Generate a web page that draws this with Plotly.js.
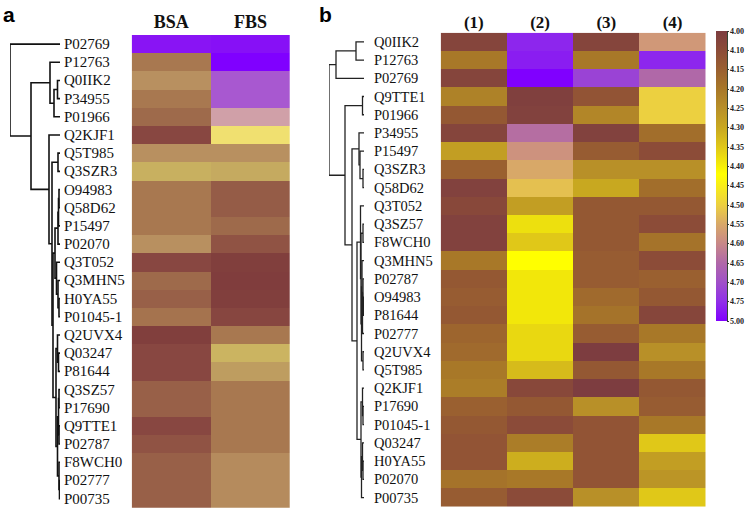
<!DOCTYPE html>
<html>
<head>
<meta charset="utf-8">
<script src="https://cdn.plot.ly/plotly-3.0.1.min.js"></script>
<style>html,body{margin:0;padding:0;background:#fff;}#chart{width:750px;height:509px;}</style>
</head>
<body>
<div id="chart"></div>
<script>
// ---------- DATA ----------
// Panel a
var rowsA = ['P02769','P12763','Q0IIK2','P34955','P01966','Q2KJF1','Q5T985','Q3SZR3','O94983','Q58D62',
  'P15497','P02070','Q3T052','Q3MHN5','H0YA55','P01045-1','Q2UVX4','Q03247','P81644','Q3SZ57',
  'P17690','Q9TTE1','P02787','F8WCH0','P02777','P00735'];
var colsA = ['BSA','FBS'];
var bsaA = [4.85,4.20,4.25,4.20,4.17,4.08,4.25,4.30,4.20,4.20,4.20,4.25,4.08,4.17,4.15,4.19,4.02,4.08,4.08,4.15,4.15,4.08,4.12,4.15,4.15,4.15];
var fbsA = [4.88,5.00,4.67,4.67,4.55,4.42,4.25,4.29,4.14,4.14,4.17,4.12,4.02,4.01,4.02,4.07,4.20,4.31,4.27,4.20,4.20,4.20,4.20,4.24,4.24,4.24];

// Panel b
var rowsB = ['Q0IIK2','P12763','P02769','Q9TTE1','P01966','P34955','P15497','Q3SZR3','Q58D62','Q3T052',
  'Q3SZ57','F8WCH0','Q3MHN5','P02787','O94983','P81644','P02777','Q2UVX4','Q5T985','Q2KJF1',
  'P17690','P01045-1','Q03247','H0YA55','P02070','P00735'];
var colsB = ['(1)','(2)','(3)','(4)'];
var col1B = [4.05,4.20,4.05,4.22,4.13,4.05,4.28,4.15,4.03,4.07,4.03,4.03,4.20,4.13,4.14,4.13,4.16,4.17,4.20,4.21,4.15,4.13,4.12,4.12,4.19,4.14];
var col2B = [4.80,4.85,5.00,4.02,4.03,4.64,4.585,4.55,4.52,4.28,4.38,4.35,4.42,4.39,4.39,4.39,4.37,4.37,4.33,4.07,4.13,4.09,4.21,4.31,4.20,4.09];
var col3B = [4.05,4.20,4.72,4.12,4.23,4.03,4.14,4.25,4.30,4.13,4.13,4.13,4.14,4.14,4.17,4.19,4.14,4.00,4.13,4.00,4.25,4.12,4.12,4.12,4.12,4.25];
var col4B = [4.575,4.80,4.65,4.50,4.50,4.18,4.10,4.25,4.18,4.13,4.10,4.19,4.10,4.15,4.13,4.06,4.20,4.25,4.20,4.13,4.14,4.20,4.35,4.28,4.26,4.35];

// Colour bar tick values
var barTicks = [4.00,4.10,4.15,4.20,4.25,4.30,4.35,4.40,4.45,4.50,4.55,4.60,4.65,4.70,4.75,5.00];

// Dendrograms: [height, left, right]
var treeA = [50, 'P02769',
  [29,
    [10, 'P12763', [6, [2.5, 'Q0IIK2', 'P34955'], 'P01966']],
    [11, 'Q2KJF1',
      [8, [2, 'Q5T985', 'Q3SZR3'],
        [7,
          [5, [2, [1.5, [1, 'O94983', 'Q58D62'], 'P15497'], 'P02070'],
              [3.5, 'Q3T052', [2, 'Q3MHN5', [1, 'H0YA55', 'P01045-1']]]],
          [4, [2.5, 'Q2UVX4', [1.5, 'Q03247', 'P81644']],
              [2.5, [1.5, [1, 'Q3SZ57', 'P17690'], [1, 'Q9TTE1', 'P02787']],
                    [1, 'F8WCH0', [0.5, 'P02777', 'P00735']]]]
        ]
      ]
    ]
  ]
];
var treeB = [35,
  [28, [8, 'Q0IIK2', 'P12763'], 'P02769'],
  [19, [1.5, 'Q9TTE1', 'P01966'],
    [12,
      [5, 'P34955', [4, 'P15497', [1, 'Q3SZR3', 'Q58D62']]],
      [7,
        [3.5, 'Q3T052',
          [3, [1, 'Q3SZ57', 'F8WCH0'],
              [2.5, [2, 'Q3MHN5', [1.5, [1, 'P02787', [0.5, 'O94983', 'P81644']], 'P02777']],
                    [1, 'Q2UVX4', 'Q5T985']]]],
        [3, [1.5, 'Q2KJF1', [1, 'P17690', 'P01045-1']],
            [2.5, [1.5, 'Q03247', [1, 'H0YA55', 'P02070']], 'P00735']]
      ]
    ]
  ]
];

// ---------- SCALES ----------
var NT = barTicks.length - 1; // 15
function toIdx(v) {
  for (var i = 0; i < NT; i++) {
    if (v <= barTicks[i + 1]) return i + (v - barTicks[i]) / (barTicks[i + 1] - barTicks[i]);
  }
  return NT;
}
function toZ(v) { return NT - toIdx(v); }

function makeScale(stops) {
  return stops.map(function (s) { return [toZ(s[0]) / NT, s[1]]; })
              .sort(function (a, b) { return a[0] - b[0]; });
}
var scaleB = makeScale([
  [4.00, '#7d3d40'], [4.10, '#8c4c38'], [4.15, '#9a6030'], [4.20, '#a87828'],
  [4.25, '#b89028'], [4.30, '#c8a820'], [4.35, '#e0c818'], [4.42, '#ffff00'],
  [4.50, '#ecd040'], [4.55, '#d8a868'], [4.60, '#c88888'], [4.65, '#b068a8'],
  [4.70, '#a050c8'], [4.75, '#9030e8'], [5.00, '#8000ff']
]);
var scaleA = makeScale([
  [4.00, '#7f3c3c'], [4.10, '#8a4a42'], [4.15, '#986048'], [4.20, '#a87850'],
  [4.25, '#b89060'], [4.30, '#c8b060'], [4.42, '#f0e070'], [4.55, '#d0a0a8'],
  [4.67, '#a858d0'], [5.00, '#8000ff']
]);

function zMatrix(cols) {
  var n = cols[0].length, z = [];
  for (var r = 0; r < n; r++) z.push(cols.map(function (c) { return toZ(c[r]); }));
  return z;
}
function idxArr(n) { var a = []; for (var i = 0; i < n; i++) a.push(i); return a; }

// Dendrogram line builder
function dendro(tree, rows) {
  var xs = [], ys = [];
  function walk(node) {
    if (typeof node === 'string') return { y: rows.indexOf(node), h: 0 };
    var h = node[0], l = walk(node[1]), r = walk(node[2]);
    xs.push(l.h, h, h, r.h, null);
    ys.push(l.y, l.y, r.y, r.y, null);
    return { y: (l.y + r.y) / 2, h: h };
  }
  walk(tree);
  return { x: xs, y: ys };
}

var dA = dendro(treeA, rowsA);
var dB = dendro(treeB, rowsB);

var serif = 'Liberation Serif, Times New Roman, serif';

var traces = [
  { type: 'scatter', mode: 'lines', x: dA.x, y: dA.y, xaxis: 'x', yaxis: 'y',
    line: { color: '#111', width: 1.6 }, hoverinfo: 'skip', showlegend: false },
  { type: 'heatmap', x: colsA, y: idxArr(rowsA.length), z: zMatrix([bsaA, fbsA]),
    xaxis: 'x2', yaxis: 'y', zmin: 0, zmax: NT, colorscale: scaleA, showscale: false },
  { type: 'scatter', mode: 'lines', x: dB.x, y: dB.y, xaxis: 'x3', yaxis: 'y3',
    line: { color: '#222', width: 1.3 }, hoverinfo: 'skip', showlegend: false },
  { type: 'heatmap', x: colsB, y: idxArr(rowsB.length), z: zMatrix([col1B, col2B, col3B, col4B]),
    xaxis: 'x4', yaxis: 'y3', zmin: 0, zmax: NT, colorscale: scaleB, showscale: true,
    colorbar: {
      x: 716 / 750, xanchor: 'left', xpad: 0, y: 1 - 31 / 509, yanchor: 'top', ypad: 0,
      len: 290, lenmode: 'pixels', thickness: 11, thicknessmode: 'pixels',
      outlinewidth: 0, ticks: 'outside', ticklen: 2, tickcolor: '#333',
      tickvals: barTicks.map(toZ), ticktext: barTicks.map(function (v) { return v.toFixed(2); }),
      tickfont: { family: serif, size: 8, color: '#222', weight: 'bold' }
    } }
];

var annotations = [];
rowsA.forEach(function (name, i) {
  annotations.push({ text: name, xref: 'paper', yref: 'y', x: 62 / 750, y: i, xanchor: 'left', yanchor: 'middle',
    showarrow: false, font: { family: serif, size: 15, color: '#111' } });
});
rowsB.forEach(function (name, i) {
  annotations.push({ text: name, xref: 'paper', yref: 'y3', x: 372 / 750, y: i, xanchor: 'left', yanchor: 'middle',
    showarrow: false, font: { family: serif, size: 14.5, color: '#111' } });
});
annotations.push({ text: 'a', xref: 'paper', yref: 'paper', x: 1 / 750, y: 1 - 1 / 509, xanchor: 'left', yanchor: 'top',
  showarrow: false, font: { family: 'Liberation Sans, Arial, sans-serif', size: 21, color: '#000', weight: 'bold' } });
annotations.push({ text: 'b', xref: 'paper', yref: 'paper', x: 317 / 750, y: 1 - 1 / 509, xanchor: 'left', yanchor: 'top',
  showarrow: false, font: { family: 'Liberation Sans, Arial, sans-serif', size: 21, color: '#000', weight: 'bold' } });

var hidden = { visible: false, fixedrange: true };
var layout = {
  width: 750, height: 509,
  margin: { l: 0, r: 0, t: 0, b: 0 },
  paper_bgcolor: '#fff', plot_bgcolor: 'rgba(0,0,0,0)',
  showlegend: false,
  xaxis: Object.assign({ domain: [10 / 750, 60 / 750], range: [50, 0], anchor: 'y' }, hidden),
  yaxis: Object.assign({ domain: [1 - 507.7 / 509, 1 - 35 / 509], range: [25.5, -0.5], anchor: 'x' }, hidden),
  xaxis2: { domain: [131.7 / 750, 290 / 750], anchor: 'y', side: 'top', showgrid: false, zeroline: false,
    showline: false, ticks: '', ticklabelstandoff: 2,
    tickfont: { family: serif, size: 18, color: '#111', weight: 'bold' } },
  xaxis3: Object.assign({ domain: [329 / 750, 364 / 750], range: [35, 0], anchor: 'y3' }, hidden),
  yaxis3: Object.assign({ domain: [1 - 506.7 / 509, 1 - 32.7 / 509], range: [25.5, -0.5], anchor: 'x3' }, hidden),
  xaxis4: { domain: [440.7 / 750, 705.7 / 750], anchor: 'y3', side: 'top', showgrid: false, zeroline: false,
    showline: false, ticks: '', ticklabelstandoff: 0,
    tickfont: { family: serif, size: 17, color: '#111', weight: 'bold' } },
  shapes: [
    { type: 'line', xref: 'paper', yref: 'paper', x0: 727.5 / 750, x1: 727.5 / 750, y0: 1 - 31 / 509, y1: 1 - 321 / 509,
      line: { color: '#334433', width: 1 } }
  ],
  annotations: annotations
};

Plotly.newPlot('chart', traces, layout, { staticPlot: true, displayModeBar: false });
</script>
</body>
</html>
